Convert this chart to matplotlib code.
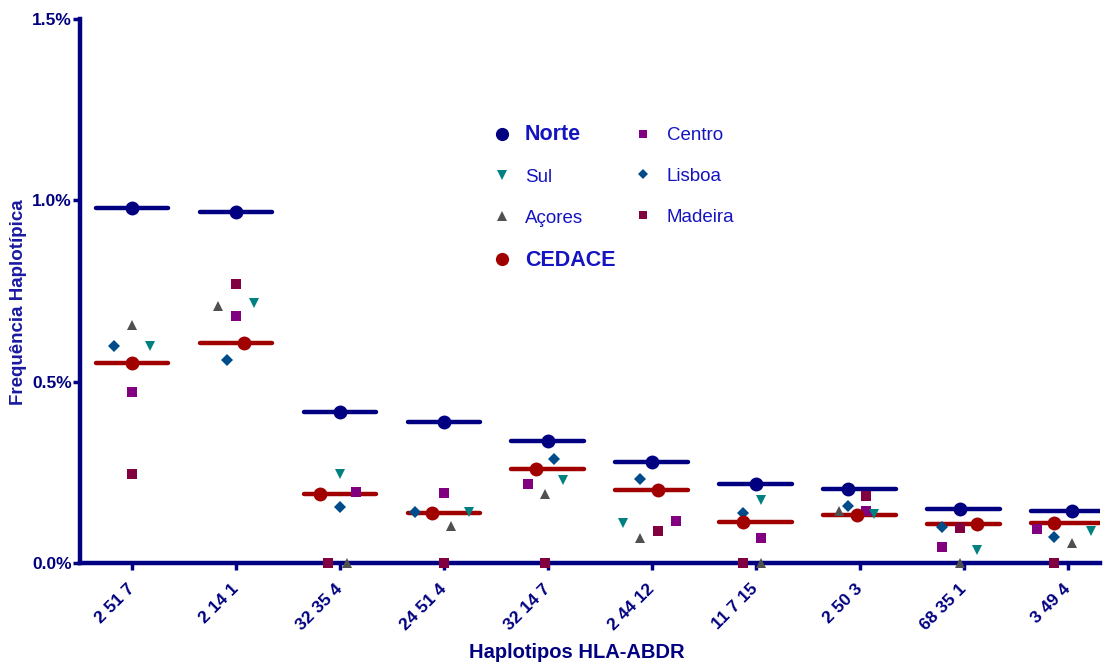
import matplotlib
matplotlib.use("Agg")
import matplotlib.pyplot as plt
from matplotlib.lines import Line2D
import numpy as np

plt.rcParams['font.family'] = ['Liberation Sans', 'DejaVu Sans']

# ---- data (values in %) ----
haplotypes = ["2 51 7", "2 14 1", "32 35 4", "24 51 4", "32 14 7",
              "2 44 12", "11 7 15", "2 50 3", "68 35 1", "3 49 4"]
norte   = [0.978, 0.968, 0.416, 0.389, 0.335, 0.279, 0.218, 0.204, 0.150, 0.144]
cedace  = [0.552, 0.607, 0.190, 0.139, 0.259, 0.201, 0.113, 0.132, 0.108, 0.110]
centro  = [0.472, 0.681, 0.196, 0.193, 0.218, 0.116, 0.069, 0.143, 0.044, 0.094]
sul     = [0.598, 0.717, 0.245, 0.141, 0.229, 0.110, 0.174, 0.135, 0.036, 0.088]
lisboa  = [0.598, 0.560, 0.154, 0.141, 0.287, 0.232, 0.138, 0.157, 0.099, 0.072]
acores  = [0.656, 0.709, 0.000, 0.102, 0.190, 0.069, 0.000, 0.143, 0.000, 0.055]
madeira = [0.245, 0.769, 0.000, 0.000, 0.000, 0.088, 0.000, 0.185, 0.097, 0.000]

# ---- horizontal scatter offsets (category units), as drawn in the original ----
jit_norte   = [0, 0, 0, 0, 0, 0, 0, -0.11, -0.04, 0.04]
jit_cedace  = [0, 0.08, -0.19, -0.11, -0.11, 0.06, -0.12, -0.03, 0.13, -0.13]
jit_centro  = [0, 0, 0.15, 0, -0.19, 0.23, 0.05, 0.06, -0.21, -0.30]
jit_sul     = [0.17, 0.17, 0, 0.24, 0.15, -0.28, 0.05, 0.14, 0.13, 0.22]
jit_lisboa  = [-0.17, -0.09, 0, -0.28, 0.06, -0.11, -0.12, -0.11, -0.21, -0.13]
jit_acores  = [0, -0.17, 0.07, 0.07, -0.03, -0.11, 0.05, -0.2, -0.04, 0.04]
jit_madeira = [0, 0, -0.11, 0, -0.03, 0.06, -0.12, 0.06, -0.04, -0.13]

NAVY = '#000080'
RED = '#A00000'
C_CENTRO = '#800080'
C_SUL = '#008080'
C_LISBOA = '#004C8A'
C_ACORES = '#505050'
C_MADEIRA = '#800040'
LEG_TXT = '#1414C0'

fig = plt.figure(figsize=(11.06, 6.66), dpi=100)
ax = fig.add_axes([0.0723, 0.1547, 0.9223, 0.8168])

x = np.arange(len(haplotypes))
hw = 0.35

# mean lines
ax.hlines(norte, x - hw, x + hw, color=NAVY, lw=3.2, capstyle='round', zorder=3)
ax.hlines(cedace, x - hw, x + hw, color=RED, lw=3.2, capstyle='round', zorder=3)

def sc(vals, jit, marker, color, ms, z=4):
    ax.plot(x + np.array(jit), vals, linestyle='none', marker=marker, color=color,
            markersize=ms, markeredgewidth=0, zorder=z, clip_on=False)

sc(centro, jit_centro, 's', C_CENTRO, 6.5)
sc(sul, jit_sul, 'v', C_SUL, 7.5)
sc(lisboa, jit_lisboa, 'D', C_LISBOA, 6)
sc(acores, jit_acores, '^', C_ACORES, 7.5)
sc(madeira, jit_madeira, 's', C_MADEIRA, 6.5)
sc(norte, jit_norte, 'o', NAVY, 10, 5)
sc(cedace, jit_cedace, 'o', RED, 10, 5)

ax.set_xlim(-0.5, 9.31)
ax.set_ylim(0, 1.5)
ax.set_yticks([0, 0.5, 1.0, 1.5])
ax.set_yticklabels(["0.0%", "0.5%", "1.0%", "1.5%"], fontsize=12.5,
                   fontweight='bold', color=NAVY)
ax.set_xticks(x)
ax.set_xticklabels(haplotypes, rotation=45, ha='right', va='center',
                   rotation_mode='anchor',
                   fontsize=12.5, fontweight='bold', color=NAVY)

for s in ['top', 'right']:
    ax.spines[s].set_visible(False)
for s in ['left', 'bottom']:
    ax.spines[s].set_color(NAVY)
    ax.spines[s].set_linewidth(3.2)
ax.tick_params(axis='both', colors=NAVY, width=2.5, length=5, pad=1)
ax.tick_params(axis='x', pad=12)

ax.set_xlabel("Haplotipos HLA-ABDR", fontsize=14.5, fontweight='bold', color=NAVY)
ax.xaxis.set_label_coords(0.487, -0.148)
ax.set_ylabel("Frequência Haplotípica", fontsize=13.5, fontweight='bold',
              color='#1A1AA0')
ax.yaxis.set_label_coords(-0.052, 0.48)

handles = [
    Line2D([], [], ls='none', marker='o', color=NAVY, ms=9.5, mew=0),
    Line2D([], [], ls='none', marker='v', color=C_SUL, ms=6.5, mew=0),
    Line2D([], [], ls='none', marker='^', color=C_ACORES, ms=6.5, mew=0),
    Line2D([], [], ls='none', marker='o', color=RED, ms=9.5, mew=0),
    Line2D([], [], ls='none', marker='s', color=C_CENTRO, ms=6, mew=0),
    Line2D([], [], ls='none', marker='D', color=C_LISBOA, ms=5.5, mew=0),
    Line2D([], [], ls='none', marker='s', color=C_MADEIRA, ms=6, mew=0),
]
labels = ["Norte", "Sul", "Açores", "CEDACE", "Centro", "Lisboa", "Madeira"]
leg = ax.legend(handles, labels, ncol=2, frameon=False, fontsize=13.5,
                loc='upper left', bbox_to_anchor=(0.397, 0.82),
                labelspacing=1.25, handlelength=1.0, handletextpad=0.73,
                columnspacing=1.0, borderaxespad=0)
for t, lab in zip(leg.get_texts(), labels):
    t.set_color(LEG_TXT)
    if lab in ("Norte", "CEDACE"):
        t.set_fontweight('bold')
        t.set_fontsize(15.5)

fig.savefig("out.png", dpi=100)
